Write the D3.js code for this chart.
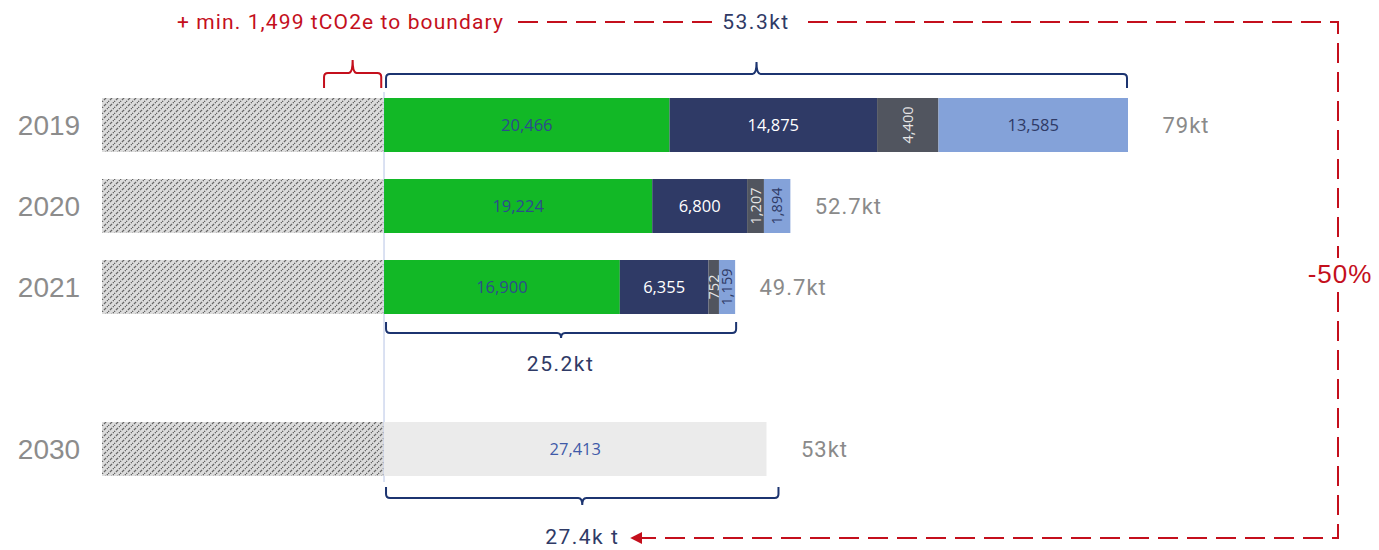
<!DOCTYPE html>
<html><head><meta charset="utf-8">
<script src="https://cdn.jsdelivr.net/npm/d3@7"></script>
<style>body{margin:0;background:#fff}svg{display:block}</style>
</head><body><div id="chart"></div>
<script>
const years = ["2019", "2020", "2021", "2030"];
const seriesKeys = ["green", "navy", "grey", "blue", "target"];
const greenVals = [20466, 19224, 16900, 0];
const navyVals = [14875, 6800, 6355, 0];
const greyVals = [4400, 1207, 752, 0];
const blueVals = [13585, 1894, 1159, 0];
const targetVals = [0, 0, 0, 27413];
const hatchVals = [20215, 20215, 20215, 20215];
const totalLabels = ["79kt", "52.7kt", "49.7kt", "53kt"];
const topBraceLabel = "53.3kt";
const midBraceLabel = "25.2kt";
const bottomBraceLabel = "27.4k t";
const boundaryLabel = "+ min. 1,499 tCO2e to boundary";
const reductionLabel = "-50%";

const W = 1379, H = 550;
const colors = {green: "#12b826", navy: "#2f3a66", grey: "#51555f", blue: "#84a2d9", target: "#ebebeb"};
const labelColors = {green: "#2c4c8c", navy: "#ffffff", grey: "#e6e6e6", blue: "#2f3a66", target: "#3f5aa8"};
const red = "#c40f1c", navyText = "#2f3a66", braceBlue = "#1c3470";

const svg = d3.select("#chart").append("svg").attr("width", W).attr("height", H);
const defs = svg.append("defs");
const pat = defs.append("pattern").attr("id", "hatch").attr("patternUnits", "userSpaceOnUse")
  .attr("width", 6).attr("height", 6);
pat.append("rect").attr("width", 6).attr("height", 6).attr("fill", "#dcdcdc");
pat.append("path").attr("d", "M-1,7 L7,-1").attr("stroke", "#666").attr("stroke-width", 1.3).attr("stroke-dasharray", "3,1.2");
defs.append("marker").attr("id", "arrow").attr("viewBox", "0 0 10 10").attr("refX", 1).attr("refY", 5)
  .attr("markerWidth", 6).attr("markerHeight", 6).attr("orient", "auto-start-reverse")
  .append("path").attr("d", "M0,0 L10,5 L0,10 z").attr("fill", red);

const x = d3.scaleLinear().domain([-20215, 53326]).range([102, 1128]);
const y = d3.scaleBand().domain(["2019", "2020", "2021", "gap", "2030"]).range([98, 476]).paddingInner(1/3).paddingOuter(0);
const bh = y.bandwidth();

const rows = years.map((yr, i) => ({
  year: yr,
  vals: {green: greenVals[i], navy: navyVals[i], grey: greyVals[i], blue: blueVals[i], target: targetVals[i]},
  hatch: hatchVals[i], total: totalLabels[i]
}));
const stack = d3.stack().keys(seriesKeys)(rows.map(r => r.vals));

// hatched blocks
svg.append("g").selectAll("rect").data(rows).join("rect")
  .attr("x", d => x(-d.hatch)).attr("y", d => y(d.year))
  .attr("width", d => x(0) - x(-d.hatch)).attr("height", bh).attr("fill", "url(#hatch)");

// reference line at zero
svg.append("line").attr("x1", x(0)).attr("x2", x(0)).attr("y1", 92).attr("y2", 482)
  .attr("stroke", "#cfd7ee").attr("stroke-width", 1.5);

// stacked segments
stack.forEach(layer => {
  const key = layer.key;
  const g = svg.append("g");
  layer.forEach((seg, i) => {
    const v = seg[1] - seg[0];
    if (!v) return;
    const x0 = x(seg[0]), x1 = x(seg[1]);
    const yy = y(years[i]);
    g.append("rect").attr("x", x0).attr("y", yy).attr("width", x1 - x0).attr("height", bh).attr("fill", colors[key]);
    const w = x1 - x0, cx = (x0 + x1) / 2, cy = yy + bh / 2;
    const txt = d3.format(",")(v);
    if (w > 70) {
      g.append("text").attr("x", cx).attr("y", cy).attr("dy", "0.35em").attr("text-anchor", "middle")
        .attr("font-family", "Open Sans").attr("font-size", 16.5).attr("fill", labelColors[key]).text(txt);
    } else {
      g.append("text").attr("transform", `translate(${cx},${cy}) rotate(-90)`).attr("dy", "0.35em")
        .attr("text-anchor", "middle").attr("font-family", "Open Sans")
        .attr("font-size", 14.5).attr("fill", labelColors[key]).text(txt);
    }
  });
});

// year labels
svg.append("g").selectAll("text").data(rows).join("text")
  .attr("x", 49).attr("y", d => y(d.year) + bh / 2).attr("dy", "0.36em").attr("text-anchor", "middle")
  .attr("font-family", "Liberation Sans").attr("font-size", 28).attr("fill", "#8c8c8c").text(d => d.year);

// total labels
svg.append("g").selectAll("text").data(rows).join("text")
  .attr("x", (d, i) => x(d3.sum(Object.values(d.vals))) + 58).attr("y", d => y(d.year) + bh / 2).attr("dy", "0.35em")
  .attr("text-anchor", "middle").attr("font-family", "Roboto").attr("font-size", 22).attr("letter-spacing", 1)
  .attr("fill", "#8a8a8a").text(d => d.total);

// braces
function brace(x1, x2, yEnd, yBar, yTip) {
  const r = 4 * Math.sign(yEnd - yBar), xm = (x1 + x2) / 2, rx = 4;
  return `M${x1},${yEnd} L${x1},${yBar + r} Q${x1},${yBar} ${x1 + rx},${yBar} L${xm - rx},${yBar} Q${xm},${yBar} ${xm},${yTip}` +
    ` Q${xm},${yBar} ${xm + rx},${yBar} L${x2 - rx},${yBar} Q${x2},${yBar} ${x2},${yBar + r} L${x2},${yEnd}`;
}
const tot = i => greenVals[i] + navyVals[i] + greyVals[i] + blueVals[i] + targetVals[i];
const braceG = svg.append("g").attr("fill", "none").attr("stroke-width", 2);
braceG.append("path").attr("d", brace(x(-4300), x(-200), 88, 73, 60)).attr("stroke", red);
braceG.append("path").attr("d", brace(x(0) + 2, x(tot(0)) - 1, 88, 74, 62)).attr("stroke", braceBlue);
braceG.append("path").attr("d", brace(x(0) + 2, x(tot(2)) + 1, 322, 333, 338)).attr("stroke", braceBlue);
braceG.append("path").attr("d", brace(x(0) + 2, x(tot(3)) + 12, 487, 498, 505)).attr("stroke", braceBlue);

const lab = svg.append("g").attr("font-family", "Roboto").attr("font-size", 21).attr("letter-spacing", 1.5).attr("text-anchor", "middle");
lab.append("text").attr("x", (x(0) + x(tot(0))) / 2).attr("y", 22).attr("dy", "0.35em").attr("fill", navyText).text(topBraceLabel);
lab.append("text").attr("x", (x(0) + x(tot(2))) / 2 + 1).attr("y", 364).attr("dy", "0.35em").attr("fill", navyText).text(midBraceLabel);
lab.append("text").attr("x", (x(0) + x(tot(3)) + 12) / 2 + 1).attr("y", 537).attr("dy", "0.35em").attr("fill", navyText).text(bottomBraceLabel);
lab.append("text").attr("x", 177).attr("y", 22).attr("dy", "0.35em").attr("text-anchor", "start").attr("font-size", 21)
  .attr("letter-spacing", 1.1).attr("fill", red).text(boundaryLabel);
lab.append("text").attr("x", 1340).attr("y", 274).attr("dy", "0.35em").attr("font-family", "Liberation Sans")
  .attr("font-size", 26).attr("letter-spacing", 1).attr("fill", red).text(reductionLabel);

// red dashed connector
const dash = svg.append("g").attr("fill", "none").attr("stroke", red).attr("stroke-width", 2).attr("stroke-dasharray", "20,9");
dash.append("path").attr("d", "M518,22 L712,22");
dash.append("path").attr("d", "M808,22 L1338,22 L1338,258");
dash.append("path").attr("d", "M1338,292 L1338,538 L641,538").attr("marker-end", "url(#arrow)");
</script></body></html>
